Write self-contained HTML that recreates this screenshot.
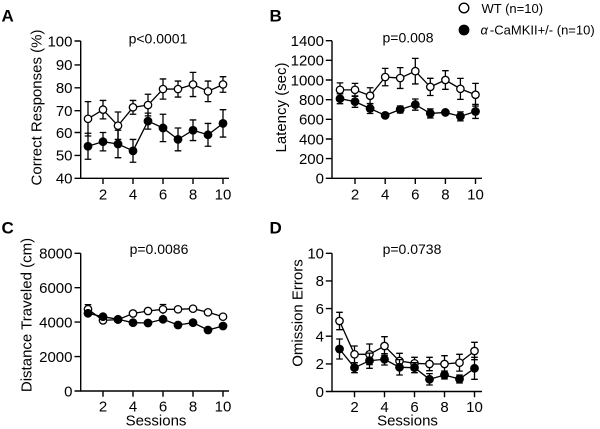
<!DOCTYPE html>
<html><head><meta charset="utf-8"><style>
html,body{margin:0;padding:0;background:#fff;}
svg{display:block;font-family:"Liberation Sans",Arial,sans-serif;}
</style></head><body>
<svg width="600" height="429" viewBox="0 0 600 429" xmlns="http://www.w3.org/2000/svg">
<g font-weight="bold" font-size="17" fill="#000">
<text x="1.5" y="21.7">A</text><text x="269.5" y="21.7">B</text>
<text x="1.5" y="233.3">C</text><text x="269.5" y="233.3">D</text>
</g>
<!-- legend -->
<circle cx="464" cy="8" r="4.8" fill="#fff" stroke="#000" stroke-width="1.4"/>
<circle cx="464" cy="30" r="5.4" fill="#000"/>
<text x="481.5" y="12.8" font-size="13">WT (n=10)</text>
<text x="480.5" y="34.5" font-size="13"><tspan font-style="italic">α</tspan><tspan dx="2">-CaMKII+/- (n=10)</tspan></text>

<g stroke="#000" stroke-width="1.4" fill="none">
<!-- A axes -->
<path d="M80.7 41V178.3H229"/>
<path d="M74.5 41H80.7M74.5 64.9H80.7M74.5 87.8H80.7M74.5 110.65H80.7M74.5 132.5H80.7M74.5 155.4H80.7M74.5 178.3H80.7"/>
<path d="M103 178.3V184M133 178.3V184M163 178.3V184M193 178.3V184M223 178.3V184"/>
<!-- B axes -->
<path d="M332 40.7V178.3H482"/>
<path d="M325.8 40.7H332M325.8 60.35H332M325.8 80H332M325.8 99.7H332M325.8 119.3H332M325.8 139H332M325.8 158.6H332M325.8 178.3H332"/>
<path d="M355 178.3V184M385.2 178.3V184M415.3 178.3V184M445.4 178.3V184M475.5 178.3V184"/>
<!-- C axes -->
<path d="M80.7 253.3V391H229"/>
<path d="M74.5 253.3H80.7M74.5 287.7H80.7M74.5 322.1H80.7M74.5 356.6H80.7M74.5 391H80.7"/>
<path d="M103 391V396.7M133 391V396.7M163 391V396.7M193 391V396.7M223 391V396.7"/>
<!-- D axes -->
<path d="M332 253.3V391.5H482"/>
<path d="M325.8 253.3H332M325.8 280.9H332M325.8 308.6H332M325.8 336.2H332M325.8 363.9H332M325.8 391.5H332"/>
<path d="M354.5 391.5V397.2M384.5 391.5V397.2M414.5 391.5V397.2M444.5 391.5V397.2M474.5 391.5V397.2"/>
</g>

<g font-size="15" fill="#000">
<g text-anchor="end">
<text x="72.5" y="46.3">100</text><text x="72.5" y="70.2">90</text><text x="72.5" y="93.1">80</text><text x="72.5" y="116">70</text><text x="72.5" y="137.8">60</text><text x="72.5" y="160.7">50</text><text x="72.5" y="183.6">40</text>
<text x="324" y="46">1400</text><text x="324" y="65.6">1200</text><text x="324" y="85.3">1000</text><text x="324" y="105">800</text><text x="324" y="124.6">600</text><text x="324" y="144.3">400</text><text x="324" y="163.9">200</text><text x="324" y="183.6">0</text>
<text x="72.5" y="258.6">8000</text><text x="72.5" y="293">6000</text><text x="72.5" y="327.4">4000</text><text x="72.5" y="361.9">2000</text><text x="72.5" y="396.3">0</text>
<text x="324" y="258.6">10</text><text x="324" y="286.2">8</text><text x="324" y="313.9">6</text><text x="324" y="341.5">4</text><text x="324" y="369.2">2</text><text x="324" y="396.8">0</text>
</g>
<g text-anchor="middle">
<text x="103" y="199.5">2</text><text x="133" y="199.5">4</text><text x="163" y="199.5">6</text><text x="193" y="199.5">8</text><text x="223" y="199.5">10</text>
<text x="355" y="199.5">2</text><text x="385.2" y="199.5">4</text><text x="415.3" y="199.5">6</text><text x="445.4" y="199.5">8</text><text x="475.5" y="199.5">10</text>
<text x="103" y="411.7">2</text><text x="133" y="411.7">4</text><text x="163" y="411.7">6</text><text x="193" y="411.7">8</text><text x="223" y="411.7">10</text>
<text x="354.5" y="412">2</text><text x="384.5" y="412">4</text><text x="414.5" y="412">6</text><text x="444.5" y="412">8</text><text x="474.5" y="412">10</text>
<text x="156" y="425.7">Sessions</text><text x="407.5" y="425.7">Sessions</text>
<text transform="translate(41.5,107.5) rotate(-90)">Correct Responses (%)</text>
<text transform="translate(286,107.5) rotate(-90)">Latency (sec)</text>
<text transform="translate(31.5,315) rotate(-90)">Distance Traveled (cm)</text>
<text transform="translate(302.5,313) rotate(-90)">Omission Errors</text>
</g>
</g>
<g font-size="14" text-anchor="middle" fill="#000">
<text x="158" y="43.5">p&lt;0.0001</text>
<text x="408" y="42.5">p=0.008</text>
<text x="159" y="254">p=0.0086</text>
<text x="412" y="254">p=0.0738</text>
</g>

<!-- ===== Panel A ===== -->
<g stroke="#000" stroke-width="1.3" fill="none">
<path d="M88 101.6V136M84.7 101.6H91.3M84.7 136H91.3"/>
<path d="M103 100.45V118.85M99.7 100.45H106.3M99.7 118.85H106.3"/>
<path d="M118 111.97V139.37M114.7 111.97H121.3M114.7 139.37H121.3"/>
<path d="M133 100.46V114.26M129.7 100.46H136.3M129.7 114.26H136.3"/>
<path d="M148 94.27V115.87M144.7 94.27H151.3M144.7 115.87H151.3"/>
<path d="M163 78.96V99.16M159.7 78.96H166.3M159.7 99.16H166.3"/>
<path d="M178 81.06V97.06M174.7 81.06H181.3M174.7 97.06H181.3"/>
<path d="M193 72.38V96.58M189.7 72.38H196.3M189.7 96.58H196.3"/>
<path d="M208 81.04V101.64M204.7 81.04H211.3M204.7 101.64H211.3"/>
<path d="M223 76.68V92.28M219.7 76.68H226.3M219.7 92.28H226.3"/>
<polyline points="88,118.8 103,109.65 118,125.67 133,107.36 148,105.07 163,89.06 178,89.06 193,84.48 208,91.34 223,84.48"/>
</g>
<g fill="#fff" stroke="#000" stroke-width="1.3">
<circle cx="88" cy="118.8" r="3.7"/><circle cx="103" cy="109.65" r="3.7"/><circle cx="118" cy="125.67" r="3.7"/><circle cx="133" cy="107.36" r="3.7"/><circle cx="148" cy="105.07" r="3.7"/><circle cx="163" cy="89.06" r="3.7"/><circle cx="178" cy="89.06" r="3.7"/><circle cx="193" cy="84.48" r="3.7"/><circle cx="208" cy="91.34" r="3.7"/><circle cx="223" cy="84.48" r="3.7"/>
</g>
<g stroke="#000" stroke-width="1.3" fill="none">
<path d="M88 133.26V159.26M84.7 133.26H91.3M84.7 159.26H91.3"/>
<path d="M103 132.49V150.89M99.7 132.49H106.3M99.7 150.89H106.3"/>
<path d="M118 130.28V157.68M114.7 130.28H121.3M114.7 157.68H121.3"/>
<path d="M133 139.44V162.24M129.7 139.44H136.3M129.7 162.24H136.3"/>
<path d="M148 113.09V129.09M144.7 113.09H151.3M144.7 129.09H151.3"/>
<path d="M163 114.26V141.66M159.7 114.26H166.3M159.7 141.66H166.3"/>
<path d="M178 128V150.8M174.7 128H181.3M174.7 150.8H181.3"/>
<path d="M193 119.95V140.55M189.7 119.95H196.3M189.7 140.55H196.3"/>
<path d="M208 123.42V146.22M204.7 123.42H211.3M204.7 146.22H211.3"/>
<path d="M223 109.68V137.08M219.7 109.68H226.3M219.7 137.08H226.3"/>
<polyline points="88,146.26 103,141.69 118,143.98 133,150.84 148,121.09 163,127.96 178,139.4 193,130.25 208,134.82 223,123.38"/>
</g>
<g fill="#000">
<circle cx="88" cy="146.26" r="4.4"/><circle cx="103" cy="141.69" r="4.4"/><circle cx="118" cy="143.98" r="4.4"/><circle cx="133" cy="150.84" r="4.4"/><circle cx="148" cy="121.09" r="4.4"/><circle cx="163" cy="127.96" r="4.4"/><circle cx="178" cy="139.4" r="4.4"/><circle cx="193" cy="130.25" r="4.4"/><circle cx="208" cy="134.82" r="4.4"/><circle cx="223" cy="123.38" r="4.4"/>
</g>

<!-- ===== Panel B ===== -->
<g stroke="#000" stroke-width="1.3" fill="none">
<path d="M340 82.84V96.84M336.7 82.84H343.3M336.7 96.84H343.3"/>
<path d="M355 83.34V96.34M351.7 83.34H358.3M351.7 96.34H358.3"/>
<path d="M370.1 87.74V103.74M366.8 87.74H373.4M366.8 103.74H373.4"/>
<path d="M385.2 68.36V85.76M381.9 68.36H388.5M381.9 85.76H388.5"/>
<path d="M400.2 67.64V88.44M396.9 67.64H403.5M396.9 88.44H403.5"/>
<path d="M415.3 58.36V83.96M412 58.36H418.6M412 83.96H418.6"/>
<path d="M430.3 78.29V95.49M427 78.29H433.6M427 95.49H433.6"/>
<path d="M445.4 70.71V89.31M442.1 70.71H448.7M442.1 89.31H448.7"/>
<path d="M460.4 78.36V99.36M457.1 78.36H463.7M457.1 99.36H463.7"/>
<path d="M475.5 83.35V106.15M472.2 83.35H478.8M472.2 106.15H478.8"/>
<polyline points="340,89.84 355,89.84 370.1,95.74 385.2,77.06 400.2,78.04 415.3,71.16 430.3,86.89 445.4,80.01 460.4,88.86 475.5,94.75"/>
</g>
<g fill="#fff" stroke="#000" stroke-width="1.3">
<circle cx="340" cy="89.84" r="3.7"/><circle cx="355" cy="89.84" r="3.7"/><circle cx="370.1" cy="95.74" r="3.7"/><circle cx="385.2" cy="77.06" r="3.7"/><circle cx="400.2" cy="78.04" r="3.7"/><circle cx="415.3" cy="71.16" r="3.7"/><circle cx="430.3" cy="86.89" r="3.7"/><circle cx="445.4" cy="80.01" r="3.7"/><circle cx="460.4" cy="88.86" r="3.7"/><circle cx="475.5" cy="94.75" r="3.7"/>
</g>
<g stroke="#000" stroke-width="1.3" fill="none">
<path d="M340 93.68V103.68M336.7 93.68H343.3M336.7 103.68H343.3"/>
<path d="M355 95.93V107.33M351.7 95.93H358.3M351.7 107.33H358.3"/>
<path d="M370.1 103.51V113.51M366.8 103.51H373.4M366.8 113.51H373.4"/>
<path d="M400.2 106V113M396.9 106H403.5M396.9 113H403.5"/>
<path d="M415.3 98.98V110.18M412 98.98H418.6M412 110.18H418.6"/>
<path d="M430.3 108.93V117.93M427 108.93H433.6M427 117.93H433.6"/>
<path d="M460.4 111.87V120.87M457.1 111.87H463.7M457.1 120.87H463.7"/>
<path d="M475.5 104.46V118.46M472.2 104.46H478.8M472.2 118.46H478.8"/>
<polyline points="340,98.68 355,101.63 370.1,108.51 385.2,115.39 400.2,109.5 415.3,104.58 430.3,113.43 445.4,112.44 460.4,116.37 475.5,111.46"/>
</g>
<g fill="#000">
<circle cx="340" cy="98.68" r="4.4"/><circle cx="355" cy="101.63" r="4.4"/><circle cx="370.1" cy="108.51" r="4.4"/><circle cx="385.2" cy="115.39" r="4.4"/><circle cx="400.2" cy="109.5" r="4.4"/><circle cx="415.3" cy="104.58" r="4.4"/><circle cx="430.3" cy="113.43" r="4.4"/><circle cx="445.4" cy="112.44" r="4.4"/><circle cx="460.4" cy="116.37" r="4.4"/><circle cx="475.5" cy="111.46" r="4.4"/>
</g>

<!-- ===== Panel C ===== -->
<g stroke="#000" stroke-width="1.3" fill="none">
<path d="M88 304.7V313.7M84.7 304.7H91.3"/>
<path d="M163 304.5V314.1M159.7 304.5H166.3"/>
<polyline points="88,309.2 103,320.4 118,319.6 133,313.5 148,311 163,309.3 178,309.3 193,308.7 208,312.3 223,316.7"/>
</g>
<g fill="#fff" stroke="#000" stroke-width="1.3">
<circle cx="88" cy="309.2" r="3.7"/><circle cx="103" cy="320.4" r="3.7"/><circle cx="118" cy="319.6" r="3.7"/><circle cx="133" cy="313.5" r="3.7"/><circle cx="148" cy="311" r="3.7"/><circle cx="163" cy="309.3" r="3.7"/><circle cx="178" cy="309.3" r="3.7"/><circle cx="193" cy="308.7" r="3.7"/><circle cx="208" cy="312.3" r="3.7"/><circle cx="223" cy="316.7" r="3.7"/>
</g>
<g stroke="#000" stroke-width="1.3" fill="none">
<polyline points="88,313.3 103,316.7 118,319.3 133,322.7 148,323 163,319.3 178,325 193,322.7 208,330 223,326"/>
</g>
<g fill="#000">
<circle cx="88" cy="313.3" r="4.4"/><circle cx="103" cy="316.7" r="4.4"/><circle cx="118" cy="319.3" r="4.4"/><circle cx="133" cy="322.7" r="4.4"/><circle cx="148" cy="323" r="4.4"/><circle cx="163" cy="319.3" r="4.4"/><circle cx="178" cy="325" r="4.4"/><circle cx="193" cy="322.7" r="4.4"/><circle cx="208" cy="330" r="4.4"/><circle cx="223" cy="326" r="4.4"/>
</g>

<!-- ===== Panel D ===== -->
<g stroke="#000" stroke-width="1.3" fill="none">
<path d="M339.5 312.3V329.7M336.2 312.3H342.8M336.2 329.7H342.8"/>
<path d="M354.5 346V362.6M351.2 346H357.8M351.2 362.6H357.8"/>
<path d="M369.5 344V364.6M366.2 344H372.8M366.2 364.6H372.8"/>
<path d="M384.5 336.7V355.3M381.2 336.7H387.8M381.2 355.3H387.8"/>
<path d="M399.5 353.3V368.7M396.2 353.3H402.8M396.2 368.7H402.8"/>
<path d="M414.5 357.3V369.3M411.2 357.3H417.8M411.2 369.3H417.8"/>
<path d="M429.5 357.3V370.7M426.2 357.3H432.8M426.2 370.7H432.8"/>
<path d="M444.5 355.7V372.3M441.2 355.7H447.8M441.2 372.3H447.8"/>
<path d="M459.5 354.3V371.1M456.2 354.3H462.8M456.2 371.1H462.8"/>
<path d="M474.5 342.3V359.7M471.2 342.3H477.8M471.2 359.7H477.8"/>
<polyline points="339.5,321 354.5,354.3 369.5,354.3 384.5,346 399.5,361 414.5,363.3 429.5,364 444.5,364 459.5,362.7 474.5,351"/>
</g>
<g fill="#fff" stroke="#000" stroke-width="1.3">
<circle cx="339.5" cy="321" r="3.7"/><circle cx="354.5" cy="354.3" r="3.7"/><circle cx="369.5" cy="354.3" r="3.7"/><circle cx="384.5" cy="346" r="3.7"/><circle cx="399.5" cy="361" r="3.7"/><circle cx="414.5" cy="363.3" r="3.7"/><circle cx="429.5" cy="364" r="3.7"/><circle cx="444.5" cy="364" r="3.7"/><circle cx="459.5" cy="362.7" r="3.7"/><circle cx="474.5" cy="351" r="3.7"/>
</g>
<g stroke="#000" stroke-width="1.3" fill="none">
<path d="M339.5 339V359M336.2 339H342.8M336.2 359H342.8"/>
<path d="M354.5 362.7V372.7M351.2 362.7H357.8M351.2 372.7H357.8"/>
<path d="M369.5 353.1V368.3M366.2 353.1H372.8M366.2 368.3H372.8"/>
<path d="M384.5 353.6V365M381.2 353.6H387.8M381.2 365H387.8"/>
<path d="M399.5 359.6V375M396.2 359.6H402.8M396.2 375H402.8"/>
<path d="M414.5 362.7V372.7M411.2 362.7H417.8M411.2 372.7H417.8"/>
<path d="M429.5 373.6V385M426.2 373.6H432.8M426.2 385H432.8"/>
<path d="M444.5 371V379M441.2 371H447.8M441.2 379H447.8"/>
<path d="M459.5 375V383M456.2 375H462.8M456.2 383H462.8"/>
<path d="M474.5 357.3V379.3M471.2 357.3H477.8M471.2 379.3H477.8"/>
<polyline points="339.5,349 354.5,367.7 369.5,360.7 384.5,359.3 399.5,367.3 414.5,367.7 429.5,379.3 444.5,375 459.5,379 474.5,368.3"/>
</g>
<g fill="#000">
<circle cx="339.5" cy="349" r="4.4"/><circle cx="354.5" cy="367.7" r="4.4"/><circle cx="369.5" cy="360.7" r="4.4"/><circle cx="384.5" cy="359.3" r="4.4"/><circle cx="399.5" cy="367.3" r="4.4"/><circle cx="414.5" cy="367.7" r="4.4"/><circle cx="429.5" cy="379.3" r="4.4"/><circle cx="444.5" cy="375" r="4.4"/><circle cx="459.5" cy="379" r="4.4"/><circle cx="474.5" cy="368.3" r="4.4"/>
</g>
</svg>
</body></html>
